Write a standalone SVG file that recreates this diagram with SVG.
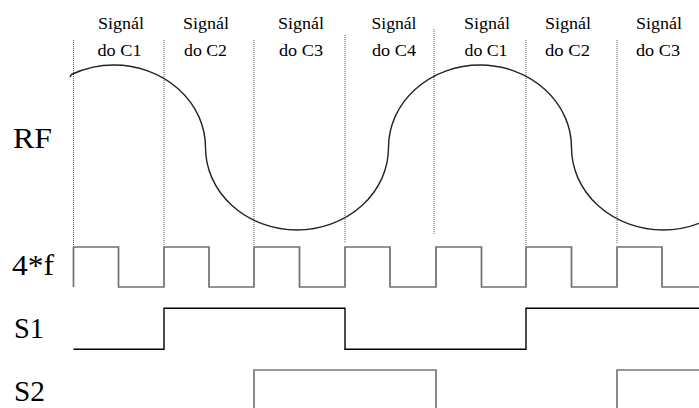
<svg xmlns="http://www.w3.org/2000/svg" width="699" height="408" viewBox="0 0 699 408">
<style>
text{font-family:'Liberation Serif','Times New Roman',serif;fill:#000}
.top{font-size:16px;text-anchor:middle}
.side{font-size:29px}
.grid{stroke:#555;stroke-width:1;stroke-dasharray:1 1;fill:none}
.rf{stroke:#222;stroke-width:1.4;fill:none}
.clk{stroke:#707070;stroke-width:1.7;fill:none}
.s1{stroke:#000;stroke-width:1.4;fill:none}
.s2{stroke:#777;stroke-width:1.7;fill:none}
</style>
<rect width="699" height="408" fill="#fff"/>
<g id="grid">
<line class="grid" x1="73.5" y1="40" x2="73.5" y2="245"/>
<line class="grid" x1="164" y1="40" x2="164" y2="245"/>
<line class="grid" x1="254" y1="40" x2="254" y2="245"/>
<line class="grid" x1="345" y1="35" x2="345" y2="243"/>
<line class="grid" x1="434" y1="29" x2="434" y2="235"/>
<line class="grid" x1="526" y1="40" x2="526" y2="245"/>
<line class="grid" x1="617" y1="40" x2="617" y2="244"/>
</g>
<g id="headers">
<text class="top" x="121" y="29" textLength="46" lengthAdjust="spacingAndGlyphs">Signál</text>
<text class="top" x="119.5" y="56" textLength="44" lengthAdjust="spacingAndGlyphs">do C1</text>
<text class="top" x="206" y="29" textLength="46" lengthAdjust="spacingAndGlyphs">Signál</text>
<text class="top" x="205.5" y="56" textLength="43" lengthAdjust="spacingAndGlyphs">do C2</text>
<text class="top" x="301" y="29" textLength="46" lengthAdjust="spacingAndGlyphs">Signál</text>
<text class="top" x="301" y="56" textLength="44" lengthAdjust="spacingAndGlyphs">do C3</text>
<text class="top" x="394" y="29" textLength="45" lengthAdjust="spacingAndGlyphs">Signál</text>
<text class="top" x="394" y="56" textLength="44" lengthAdjust="spacingAndGlyphs">do C4</text>
<text class="top" x="487" y="29" textLength="46" lengthAdjust="spacingAndGlyphs">Signál</text>
<text class="top" x="486" y="56" textLength="43" lengthAdjust="spacingAndGlyphs">do C1</text>
<text class="top" x="568" y="29" textLength="46" lengthAdjust="spacingAndGlyphs">Signál</text>
<text class="top" x="567.5" y="56" textLength="45" lengthAdjust="spacingAndGlyphs">do C2</text>
<text class="top" x="659" y="29" textLength="46" lengthAdjust="spacingAndGlyphs">Signál</text>
<text class="top" x="658" y="56" textLength="44" lengthAdjust="spacingAndGlyphs">do C3</text>
</g>
<g id="labels">
<text class="side" x="13" y="148" textLength="39" lengthAdjust="spacingAndGlyphs">RF</text>
<text class="side" x="12" y="275" textLength="42" lengthAdjust="spacingAndGlyphs">4*f</text>
<text class="side" x="14" y="338" textLength="30" lengthAdjust="spacingAndGlyphs">S1</text>
<text class="side" x="14" y="401" textLength="31" lengthAdjust="spacingAndGlyphs">S2</text>
</g>
<g id="rf">
<path class="rf" d="M70 77 C70.5 76 71 75.5 71.5 74.5 A91.5 82.5 0 0 1 114 65 A91.5 82.5 0 0 1 205.5 147.5 A91.5 82.5 0 0 0 297 230 A91.5 82.5 0 0 0 388.5 147.5 A91.5 82.5 0 0 1 480 65 A91.5 82.5 0 0 1 571.5 147.5 A91.5 82.5 0 0 0 663 230 A91.5 82.5 0 0 0 699 223.3"/>
</g>
<g id="clock">
<path class="clk" d="M73.5 287 V247 H118.5 V287 H164 V247 H209 V287 H254 V247 H299.5 V287 H345 V247 H390 V287 H436 V247 H481.5 V287 H526 V247 H571.5 V287 H617 V247 H662 V287 H699"/>
</g>
<g id="s1">
<path class="s1" d="M73.5 349.3 H164 V308.3 H345 V349.3 H526 V308.3 H699"/>
</g>
<g id="s2">
<path class="s2" d="M254 410 V370 H436 V410 M617 410 V370 H699"/>
</g>
</svg>
